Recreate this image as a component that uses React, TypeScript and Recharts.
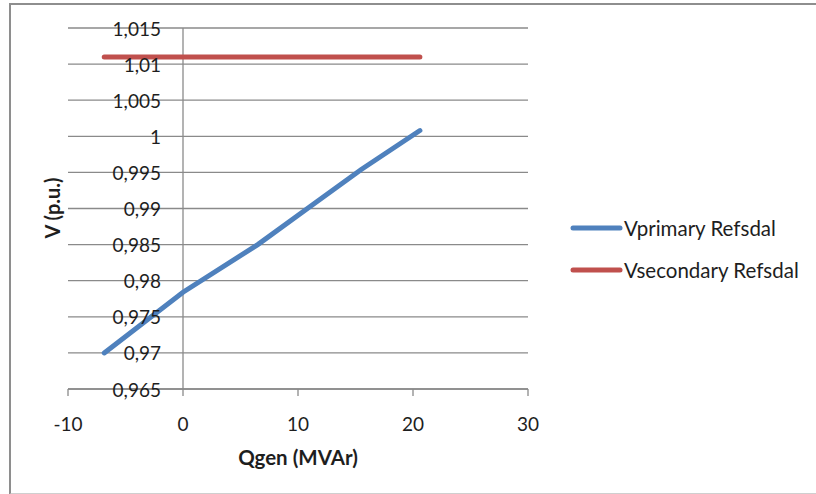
import { LineChart, Line, XAxis, YAxis, CartesianGrid, ReferenceLine, Legend } from 'recharts';

// Qgen (MVAr) vs voltage readings
const qGen = [-6.85, 0, 6.5, 11, 15.5, 20.6];
const vPrimary = [0.97, 0.9784, 0.985, 0.9902, 0.9954, 1.0008];
const vSecondary = [1.011, 1.011, 1.011, 1.011, 1.011, 1.011];

const xTicks = [-10, 0, 10, 20, 30];
const yTicks = [0.965, 0.97, 0.975, 0.98, 0.985, 0.99, 0.995, 1, 1.005, 1.01, 1.015];

const seriesNames = ['Vprimary Refsdal', 'Vsecondary Refsdal'];
const seriesColors = ['#4F81BD', '#C0504D'];

const data = qGen.map((q, i) => ({ q, primary: vPrimary[i], secondary: vSecondary[i] }));

const W = 816;
const H = 494;
const Y_AXIS_W = 68;
const margin = { top: 28, right: 288, bottom: 65, left: 0 };
const plotLeft = margin.left + Y_AXIS_W;
const plotW = W - plotLeft - margin.right;
const X_MIN = -10;
const X_MAX = 30;
// vertical axis crosses at x = 0, like Excel does
const yAxisX = plotLeft + (plotW * (0 - X_MIN)) / (X_MAX - X_MIN);

const FONT = 'Lato, "Liberation Sans", sans-serif';
const TEXT = '#1e1e1e';
const GRID = '#8a8a8a';

const fmt = (v: number) => String(v).replace('.', ',');

const YTick = ({ y, payload }: any) => (
  <text x={yAxisX - 22} y={y} textAnchor="end" dominantBaseline="central" fontFamily={FONT} fontSize={19} fill={TEXT}>
    {fmt(payload.value)}
  </text>
);

const XTick = ({ x, payload }: any) => (
  <text x={x} y={423} textAnchor="middle" dominantBaseline="central" fontFamily={FONT} fontSize={19} fill={TEXT}>
    {payload.value}
  </text>
);

const renderLegend = ({ payload }: any) => (
  <div>
    {(payload || []).map((p: any) => (
      <div key={p.value} style={{ display: 'flex', alignItems: 'center', height: 42 }}>
        <svg width={54} height={8}>
          <line x1={3} y1={4} x2={50} y2={4} stroke={p.color} strokeWidth={5} strokeLinecap="round" />
        </svg>
        <span style={{ fontFamily: FONT, fontSize: 20.5, color: TEXT }}>{p.value}</span>
      </div>
    ))}
  </div>
);

export default function App() {
  return (
    <div style={{ position: 'absolute', left: 0, top: 0, width: W, height: H, overflow: 'hidden', background: '#fff' }}>
      <div
        style={{
          position: 'absolute',
          left: 9,
          top: 3,
          width: 840,
          height: 488,
          borderLeft: '2px solid #8e8e8e',
          borderTop: '2px solid #8e8e8e',
          borderBottom: '2px solid #cfcfcf',
        }}
      />
      <div style={{ position: 'absolute', left: 0, top: 0 }}>
        <LineChart width={W} height={H} data={data} margin={margin}>
          <CartesianGrid horizontal vertical={false} stroke={GRID} strokeWidth={1.3} />
          <XAxis
            type="number"
            dataKey="q"
            domain={[X_MIN, X_MAX]}
            ticks={xTicks}
            height={40}
            tick={<XTick />}
            tickSize={7}
            tickLine={{ stroke: GRID, strokeWidth: 1.3 }}
            axisLine={{ stroke: GRID, strokeWidth: 1.3 }}
            label={{
              content: () => (
                <text x={plotLeft + plotW / 2} y={457} textAnchor="middle" dominantBaseline="central" fontFamily={FONT} fontSize={20.5} fontWeight="bold" fill={TEXT}>
                  Qgen (MVAr)
                </text>
              ),
            }}
          />
          <YAxis
            type="number"
            domain={[0.965, 1.015]}
            ticks={yTicks}
            width={Y_AXIS_W}
            axisLine={false}
            tickLine={false}
            tick={<YTick />}
            label={{
              content: () => (
                <text transform="translate(52,208) rotate(-90)" textAnchor="middle" dominantBaseline="central" fontFamily={FONT} fontSize={20} fontWeight="bold" fill={TEXT}>
                  V (p.u.)
                </text>
              ),
            }}
          />
          <ReferenceLine x={0} stroke={GRID} strokeWidth={1.3} />
          <Legend
            layout="horizontal"
            align="center"
            verticalAlign="middle"
            content={renderLegend}
            wrapperStyle={{ left: 570, top: 207, width: 240 }}
          />
          <Line
            name={seriesNames[0]}
            dataKey="primary"
            stroke={seriesColors[0]}
            strokeWidth={5}
            strokeLinecap="round"
            dot={false}
            isAnimationActive={false}
          />
          <Line
            name={seriesNames[1]}
            dataKey="secondary"
            stroke={seriesColors[1]}
            strokeWidth={5}
            strokeLinecap="round"
            dot={false}
            isAnimationActive={false}
          />
        </LineChart>
      </div>
    </div>
  );
}
